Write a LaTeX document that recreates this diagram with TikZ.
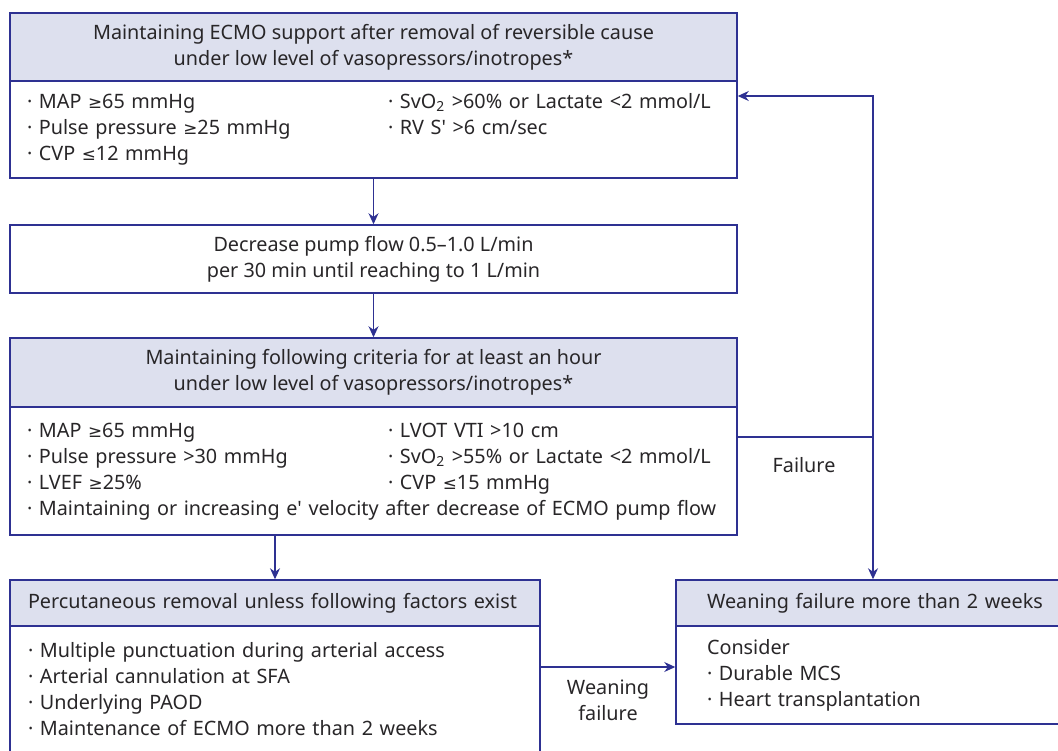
\documentclass[tikz,border=0pt]{standalone}
\usepackage{fontspec}
\setmainfont{Noto Sans}
\newfontfamily\symfont{DejaVu Sans}[Scale=0.85]
\newcommand{\geqs}{{\symfont ≥}}
\newcommand{\leqs}{{\symfont ≤}}
\usetikzlibrary{arrows.meta,positioning}
\definecolor{navy}{RGB}{46,49,146}
\definecolor{lavender}{RGB}{221,224,238}
\definecolor{ink}{RGB}{40,38,40}
\tikzset{
  boxline/.style={draw=navy, line width=0.75pt, inner sep=0pt, text=ink,
    font=\fontsize{9.9}{13}\selectfont},
  headbox/.style={boxline, fill=lavender, align=center},
  bodybox/.style={boxline, fill=white},
  flow/.style={draw=navy, line width=0.6pt, -{Stealth[length=5.5pt,width=5pt]}},
  tag/.style={text=ink, align=center, font=\fontsize{9.9}{13}\selectfont},
}
\begin{document}
\begin{tikzpicture}[x=0.5pt,y=-0.5pt]
\clip (0,0) rectangle (1058,750);
\path
  coordinate (wf) at (540,667)
  coordinate (fj) at (873,437)
  coordinate (fr) at (873,96)
  ;
\node[headbox, minimum width=363.5pt, minimum height=34pt] (h1) at (373.5,47)
  {Maintaining ECMO support after removal of reversible cause\\
   under low level of vasopressors/inotropes*};
\node[bodybox, minimum height=48.5pt, inner xsep=8.5pt, text width=346.5pt, align=left] (b1) at (373.5,129.5)
  {\begin{tabular}{@{}p{180.5pt}@{}l@{}}
   · MAP \geqs65 mmHg & · SvO\textsubscript{2} >60\% or Lactate <2 mmol/L\\
   · Pulse pressure \geqs25 mmHg & · RV S\textquotesingle{} >6 cm/sec\\
   · CVP \leqs12 mmHg &
   \end{tabular}};
\node[bodybox, minimum width=363.5pt, minimum height=34pt, align=center] (b2) at (373.5,259)
  {Decrease pump flow 0.5–1.0 L/min\\
   per 30 min until reaching to 1 L/min};
\node[headbox, minimum width=363.5pt, minimum height=34.5pt] (h3) at (373.5,372.5)
  {Maintaining following criteria for at least an hour\\
   under low level of vasopressors/inotropes*};
\node[bodybox, minimum height=64pt, inner xsep=8.5pt, text width=346.5pt, align=left] (b3) at (373.5,471)
  {\begin{tabular}{@{}p{180.5pt}@{}l@{}}
   · MAP \geqs65 mmHg & · LVOT VTI >10 cm\\
   · Pulse pressure >30 mmHg & · SvO\textsubscript{2} >55\% or Lactate <2 mmol/L\\
   · LVEF \geqs25\% & · CVP \leqs15 mmHg\\
   \multicolumn{2}{@{}l@{}}{· Maintaining or increasing e\textquotesingle{} velocity after decrease of ECMO pump flow}
   \end{tabular}};
\node[headbox, minimum height=23pt, inner xsep=9pt, text width=247pt, align=left] (h4) at (275,603)
  {\mbox{Percutaneous removal unless following factors exist}};
\node[bodybox, minimum height=63pt, inner xsep=9pt, text width=247pt, align=left] (b4) at (275,689)
  {· Multiple punctuation during arterial access\\
   · Arterial cannulation at SFA\\
   · Underlying PAOD\\
   · Maintenance of ECMO more than 2 weeks};
\node[headbox, minimum height=23pt, inner xsep=15.5pt, text width=171pt, align=left] (h5) at (878,603)
  {\mbox{Weaning failure more than 2 weeks}};
\node[bodybox, minimum height=49pt, inner xsep=15.5pt, text width=171pt, align=left] (b5) at (878,675)
  {Consider\\
   · Durable MCS\\
   · Heart transplantation};
\draw[flow] (b1) -- (b2);
\draw[flow] (b2) -- (h3);
\draw[flow] (b3.south -| h4.north) -- (h4.north);
\draw[flow] (wf) -- (wf -| b5.west);
\draw[navy, line width=0.6pt] (fj -| b3.east) -- (fj);
\draw[flow] (fj) -- (fr) -- (fr -| b1.east);
\draw[flow] (fj) -- (fj |- h5.north);
\node[tag] (fail) at (804,465) {Failure};
\node[tag] (wean) at (608,700) {Weaning\\failure};
\end{tikzpicture}
\end{document}
